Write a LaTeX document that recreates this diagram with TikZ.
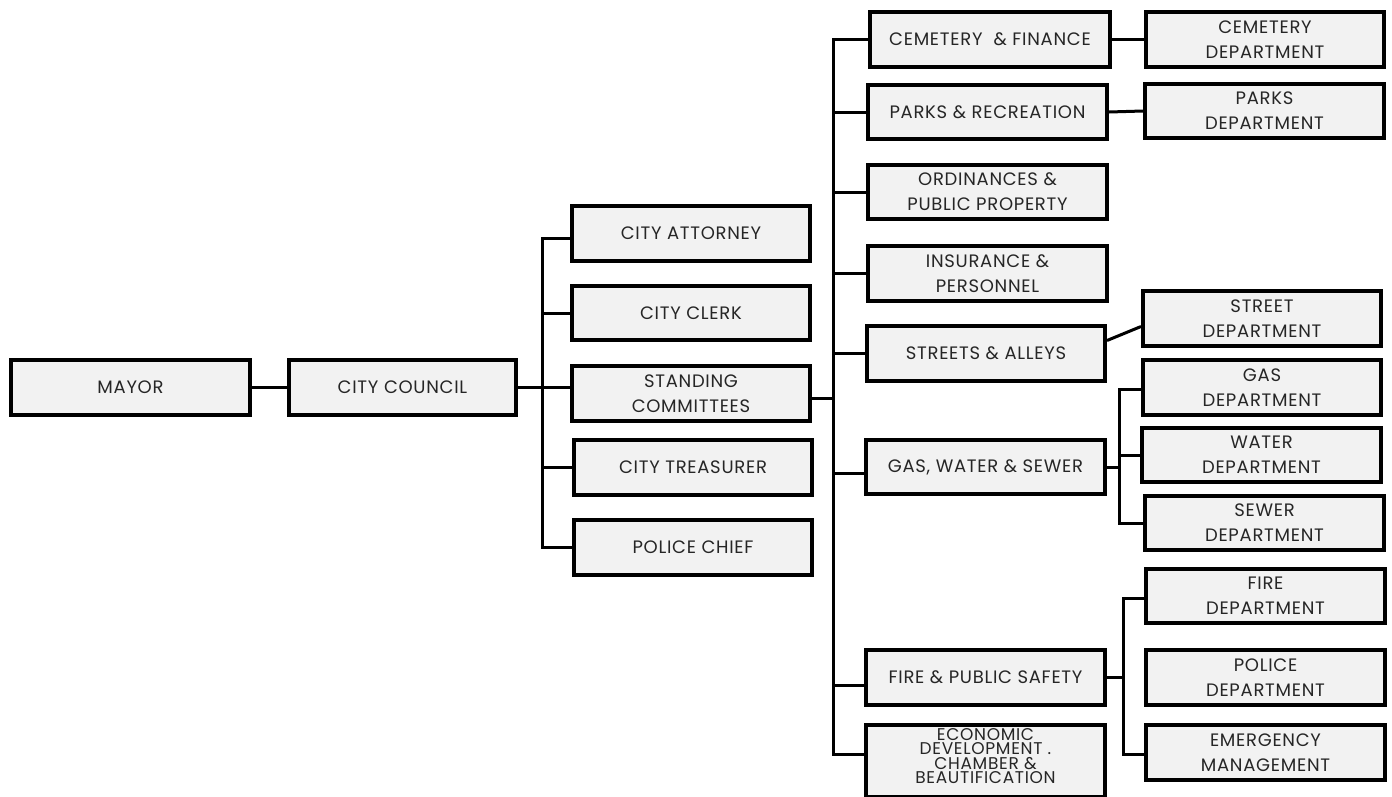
\documentclass[tikz,border=0pt]{standalone}
\usepackage{fontspec}
\setmainfont{Poppins}[LetterSpace=4]
\begin{document}
\begin{tikzpicture}[x=1pt,y=-1pt,
  box/.style={draw=black,line width=3.8pt,fill=black!5,align=center,inner sep=0pt,
    text=black!85,font=\fontsize{18}{25}\selectfont},
  link/.style={draw=black,line width=3pt}]
\useasboundingbox (0,0) rectangle (1392,796);
\newcommand\mkbox[7][]{\node[box,#1,minimum width={#5-#3-3.8},minimum height={#6-#4-3.8}] (#2) at ({(#3+#5)/2},{(#4+#6)/2}) {#7};}
% column 1
\mkbox{mayor}{9}{358}{252}{417}{MAYOR}
\mkbox{council}{287}{358}{518}{417}{CITY COUNCIL}
% column 2
\mkbox{attorney}{570}{204}{812}{263}{CITY ATTORNEY}
\mkbox{clerk}{570}{284}{812}{342}{CITY CLERK}
\mkbox{standing}{570}{364}{812}{423}{STANDING\\COMMITTEES}
\mkbox{treasurer}{572}{438}{814}{497}{CITY TREASURER}
\mkbox{policechief}{572}{518}{814}{577}{POLICE CHIEF}
% column 3
\mkbox{cemfin}{868}{10}{1112}{69}{CEMETERY\ \ \& FINANCE}
\mkbox{parksrec}{866}{83}{1109}{141}{PARKS \& RECREATION}
\mkbox{ordin}{866}{163}{1109}{221}{ORDINANCES \&\\PUBLIC PROPERTY}
\mkbox{insur}{866}{244}{1109}{303}{INSURANCE \&\\PERSONNEL}
\mkbox{streets}{865}{324}{1107}{383}{STREETS \& ALLEYS}
\mkbox{gws}{864}{438}{1107}{496}{GAS, WATER \& SEWER}
\mkbox{fireps}{864}{648}{1107}{707}{FIRE \& PUBLIC SAFETY}
\mkbox[font=\fontsize{17}{14.5}\selectfont,text depth=10pt]{econ}{864}{723}{1107}{799}{ECONOMIC\\DEVELOPMENT .\\CHAMBER \&\\BEAUTIFICATION}
% column 4
\mkbox{cemdept}{1144}{10}{1386}{69}{CEMETERY\\DEPARTMENT}
\mkbox{parksdept}{1143}{82}{1386}{140}{PARKS\\DEPARTMENT}
\mkbox{streetdept}{1141}{289}{1383}{348}{STREET\\DEPARTMENT}
\mkbox{gasdept}{1141}{358}{1383}{417}{GAS\\DEPARTMENT}
\mkbox{waterdept}{1140}{426}{1383}{484}{WATER\\DEPARTMENT}
\mkbox{sewerdept}{1143}{494}{1386}{552}{SEWER\\DEPARTMENT}
\mkbox{firedept}{1144}{567}{1387}{625}{FIRE\\DEPARTMENT}
\mkbox{policedept}{1144}{648}{1387}{707}{POLICE\\DEPARTMENT}
\mkbox{emerg}{1144}{723}{1387}{782}{EMERGENCY\\MANAGEMENT}
% anchor points for connectors
\coordinate (attS) at ([yshift=-4.5pt]attorney.west);
\coordinate (stdS) at ([yshift=-4.5pt]standing.east);
\coordinate (econS) at ([yshift=7pt]econ.west);
\coordinate (gwsS) at ([yshift=-6pt]gws.west);
\coordinate (firepsS) at ([yshift=-8pt]fireps.west);
\coordinate (streetsS) at ([yshift=13pt]streets.east);
\coordinate (streetdeptS) at ([yshift=-8pt]streetdept.west);
\coordinate (gasS) at ([yshift=-2pt]gasdept.west);
\coordinate (fireS) at ([yshift=-2pt]firedept.west);
\coordinate (emergS) at ([yshift=-1.5pt]emerg.west);
% connectors
\draw[link] (mayor.east) -- (council.west);
\draw[link] (council.east) -- (standing.west |- council.east);
\draw[link] (attS) -- ++(-28,0) coordinate (b1) -- (b1 |- policechief.west) -- (policechief.west);
\draw[link] (clerk.west) -- (clerk.west -| b1);
\draw[link] (treasurer.west) -- (treasurer.west -| b1);
\draw[link] (stdS) -- ++(21,0) coordinate (b2);
\draw[link] (cemfin.west) -- ++(-35,0) coordinate (b3) -- (b3 |- econS) -- (econS);
\draw[link] (parksrec.west) -- (parksrec.west -| b3);
\draw[link] (ordin.west) -- (ordin.west -| b3);
\draw[link] (insur.west) -- (insur.west -| b3);
\draw[link] (streets.west) -- (streets.west -| b3);
\draw[link] (gwsS) -- (gwsS -| b3);
\draw[link] (firepsS) -- (firepsS -| b3);
\draw[link] (cemfin.east) -- (cemdept.west);
\draw[link] (parksrec.east) -- (parksdept.west);
\draw[link] (streetsS) -- (streetdeptS);
\draw[link] (gasS) -- ++(-22,0) coordinate (b4) -- (b4 |- sewerdept.west) -- (sewerdept.west);
\draw[link] (waterdept.west) -- (waterdept.west -| b4);
\draw[link] (gws.east) -- (gws.east -| b4);
\draw[link] (fireS) -- ++(-21,0) coordinate (b5) -- (b5 |- emergS) -- (emergS);
\draw[link] (fireps.east) -- (fireps.east -| b5);
\end{tikzpicture}
\end{document}
